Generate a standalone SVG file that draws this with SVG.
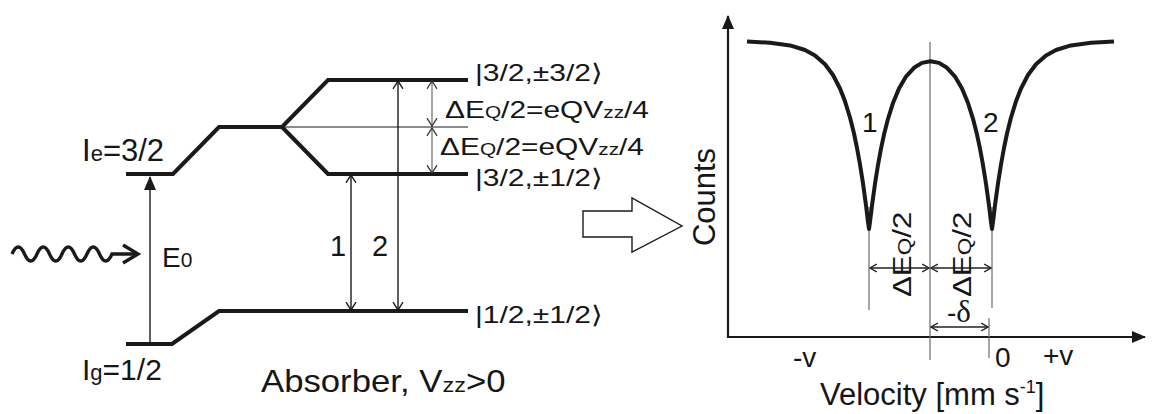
<svg xmlns="http://www.w3.org/2000/svg" width="1161" height="414" viewBox="0 0 1161 414">
<defs>
<style>
.t{font-family:'Liberation Sans','DejaVu Sans',Arial,sans-serif;fill:#161616}
.lvl{fill:none;stroke:#1a1a1a;stroke-width:4;stroke-linejoin:miter}
.thin{fill:none;stroke:#1a1a1a;stroke-width:1.4}
.gray{fill:none;stroke:#6a6a6a;stroke-width:1.2}
.axis{fill:none;stroke:#1a1a1a;stroke-width:2.2}
</style>
<marker id="chev" viewBox="0 0 9 12" refX="8.3" refY="6" markerWidth="9" markerHeight="12" markerUnits="userSpaceOnUse" orient="auto-start-reverse">
<path d="M0.5,1 L8.3,6 L0.5,11" fill="none" stroke="#1a1a1a" stroke-width="1.4"/>
</marker>
<marker id="chevg" viewBox="0 0 9 12" refX="8.3" refY="6" markerWidth="9" markerHeight="12" markerUnits="userSpaceOnUse" orient="auto-start-reverse">
<path d="M0.5,1 L8.3,6 L0.5,11" fill="none" stroke="#333" stroke-width="1.3"/>
</marker>
<marker id="chevs" viewBox="0 0 8 10" refX="7.3" refY="5" markerWidth="8" markerHeight="10" markerUnits="userSpaceOnUse" orient="auto-start-reverse">
<path d="M0.5,1 L7.3,5 L0.5,9" fill="none" stroke="#222" stroke-width="1.3"/>
</marker>
<marker id="tri" viewBox="0 0 14 12" refX="13" refY="6" markerWidth="14" markerHeight="12" markerUnits="userSpaceOnUse" orient="auto">
<path d="M0,0 L14,6 L0,12 Z" fill="#1a1a1a"/>
</marker>
</defs>

<g id="excited-levels">
<path class="lvl" d="M126,174 L173,174 L219,127 L282,127 L328,80 L468,80"/>
<path class="lvl" d="M282,127 L328,174 L468,174"/>
<path d="M282,127 L468,127" fill="none" stroke="#1a1a1a" stroke-width="1"/>
</g>

<g id="ground-levels">
<path class="lvl" d="M126,344 L172,344 L219,311 L468,311"/>
</g>

<g id="gamma">
<path d="M12,254 q6.25,-14 12.5,0 t12.5,0 t12.5,0 t12.5,0 t12.5,0 t12.5,0 t12.5,0 t12.5,0 L137,254" fill="none" stroke="#1a1a1a" stroke-width="3.4"/>
<path d="M123,245 L138,254 L123,263" fill="none" stroke="#1a1a1a" stroke-width="3.4"/>
</g>

<g id="connectors">
<path d="M150,344 L150,177" class="thin" marker-end="url(#tri)"/>
<path d="M351,175 L351,310" class="thin" marker-start="url(#chev)" marker-end="url(#chev)"/>
<path d="M398,81 L398,310" class="thin" marker-start="url(#chev)" marker-end="url(#chev)"/>
<path d="M432,81 L432,126" class="gray" marker-start="url(#chevg)" marker-end="url(#chevg)"/>
<path d="M432,128 L432,173" class="gray" marker-start="url(#chevg)" marker-end="url(#chevg)"/>
</g>

<g id="left-labels">
<text class="t" x="82" y="161" font-size="31">I<tspan font-size="22">e</tspan>=3/2</text>
<text class="t" x="82" y="380" font-size="30">I<tspan font-size="22">g</tspan>=1/2</text>
<text class="t" x="162" y="267" font-size="28">E<tspan font-size="21">0</tspan></text>
<text class="t" x="330" y="256" font-size="29">1</text>
<text class="t" x="372" y="256" font-size="29">2</text>
<text class="t" transform="translate(261,392) scale(1.12,1)" font-size="31">Absorber, V<tspan font-size="21">zz</tspan>&gt;0</text>
</g>

<g id="state-labels">
<text class="t" transform="translate(475,81) scale(1.25,1)" font-size="24">|3/2,±3/2⟩</text>
<text class="t" transform="translate(445,118) scale(1.3,1)" font-size="23">ΔE<tspan font-size="16">Q</tspan>/2=eQV<tspan font-size="16">zz</tspan>/4</text>
<text class="t" transform="translate(440,155) scale(1.3,1)" font-size="23">ΔE<tspan font-size="16">Q</tspan>/2=eQV<tspan font-size="16">zz</tspan>/4</text>
<text class="t" transform="translate(475,186) scale(1.25,1)" font-size="24">|3/2,±1/2⟩</text>
<text class="t" transform="translate(475,323) scale(1.25,1)" font-size="24">|1/2,±1/2⟩</text>
</g>

<g id="big-arrow">
<path d="M583,211 L632,211 L632,198 L682,226 L632,252 L632,237 L583,237 Z" fill="#fff" stroke="#1a1a1a" stroke-width="1.4"/>
</g>

<g id="plot">
<path class="axis" d="M728,338 L728,16" marker-end="url(#tri)"/>
<path class="axis" d="M727,337 L1145,337" marker-end="url(#tri)"/>
<path class="gray" d="M930,42 L930,360"/>
<path class="gray" d="M869,207 L869,310"/>
<path class="gray" d="M992,207 L992,308"/>
<path class="gray" d="M989,318 L989,358"/>
<polyline fill="none" stroke="#1a1a1a" stroke-width="4" stroke-linejoin="round" stroke-linecap="butt" points="747,41.6 770,42.7 790,45.4 805,50 815,55.4 825,64.3 833,75 840,88.5 845,101.3 850,117.5 854,133.5 857,148 860,164.5 863,183.4 866,205.3 868,222 869,229 870,222 872,205.4 875,183.7 878,165 881,148.7 884,134.6 888,118.8 893,103 899,88.6 906,76.6 914,67.8 922,62.9 930.5,61.2 939,62.9 947,67.8 955,76.6 962,88.6 968,103 973,118.8 977,134.6 980,148.7 983,165 986,183.7 989,205.4 991,222 992,229 993,222 995,205.3 998,183.4 1001,164.5 1004,148 1007,133.5 1011,117.5 1016,101.3 1021,88.5 1028,75 1036,64.3 1046,55.4 1056,50 1071,45.4 1091,42.7 1114,41.6"/>
<path d="M870,268 L929,268" fill="none" stroke="#222" stroke-width="1.3" marker-start="url(#chevs)" marker-end="url(#chevs)"/>
<path d="M931,268 L991,268" fill="none" stroke="#222" stroke-width="1.3" marker-start="url(#chevs)" marker-end="url(#chevs)"/>
<path d="M931,327 L988,327" fill="none" stroke="#222" stroke-width="1.3" marker-start="url(#chevs)" marker-end="url(#chevs)"/>
</g>

<g id="plot-labels">
<text class="t" transform="translate(715,197) rotate(-90)" font-size="31" text-anchor="middle">Counts</text>
<text class="t" x="862" y="132" font-size="28">1</text>
<text class="t" x="983" y="132" font-size="28">2</text>
<text class="t" transform="translate(911,297) rotate(-90) scale(1.25,1)" font-size="25">ΔE<tspan font-size="18">Q</tspan>/2</text>
<text class="t" transform="translate(971,297) rotate(-90) scale(1.25,1)" font-size="25">ΔE<tspan font-size="18">Q</tspan>/2</text>
<text class="t" x="947" y="322" font-size="28">-<tspan font-family="'Liberation Serif','DejaVu Serif',serif" font-size="31">δ</tspan></text>
<text class="t" x="793" y="367" font-size="28">-v</text>
<text class="t" x="995" y="367" font-size="28">0</text>
<text class="t" x="1043" y="365" font-size="28">+v</text>
<text class="t" x="820" y="405" font-size="31">Velocity [mm s<tspan font-size="18" dy="-12">-1</tspan><tspan dy="12">]</tspan></text>
</g>
</svg>
